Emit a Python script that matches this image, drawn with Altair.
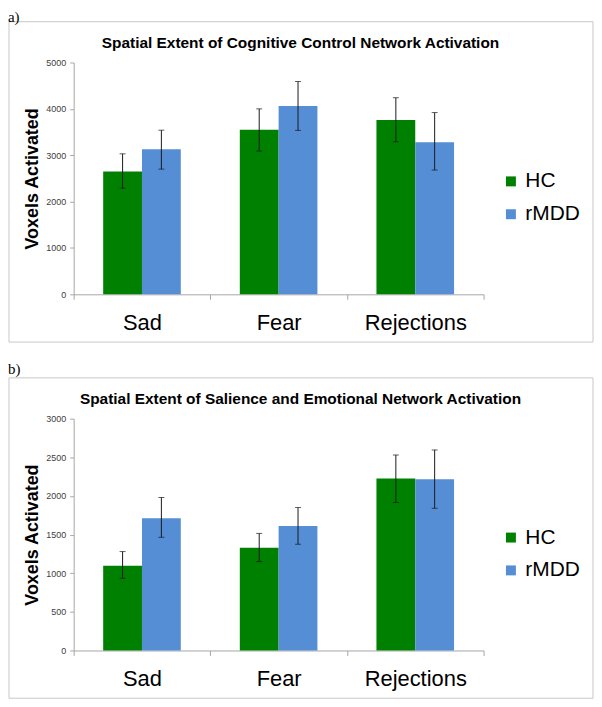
import altair as alt
import pandas as pd

categories = ["Sad", "Fear", "Rejections"]
groups = ["HC", "rMDD"]

# Panel a: Cognitive Control Network
cog_hc = [2650, 3550, 3760]
cog_hc_lo = [2290, 3090, 3290]
cog_hc_hi = [3030, 4000, 4240]
cog_rmdd = [3130, 4060, 3280]
cog_rmdd_lo = [2700, 3535, 2680]
cog_rmdd_hi = [3540, 4590, 3920]
cog_ticks = [0, 1000, 2000, 3000, 4000, 5000]

# Panel b: Salience and Emotional Network
sal_hc = [1095, 1330, 2225]
sal_hc_lo = [935, 1150, 1915]
sal_hc_hi = [1280, 1515, 2530]
sal_rmdd = [1710, 1610, 2215]
sal_rmdd_lo = [1465, 1375, 1840]
sal_rmdd_hi = [1980, 1850, 2595]
sal_ticks = [0, 500, 1000, 1500, 2000, 2500, 3000]

colors = ["#008000", "#558ED5"]
W, H = 412, 233
FONT = "Liberation Sans"


def make_df(hc, hc_lo, hc_hi, rm, rm_lo, rm_hi):
    rows = []
    for i, c in enumerate(categories):
        rows.append(dict(cat=c, grp="HC", v=hc[i], lo=hc_lo[i], hi=hc_hi[i]))
        rows.append(dict(cat=c, grp="rMDD", v=rm[i], lo=rm_lo[i], hi=rm_hi[i]))
    return pd.DataFrame(rows)


def panel(df, tag, tag_y, title, ticks, ymax):
    one = alt.Data(values=[{"k": 1}])
    xaxis = alt.Axis(title=None, labelAngle=0, labelFontSize=22, labelFont=FONT,
                     labelColor="black", domainColor="#a6a6a6", tickColor="#a6a6a6",
                     tickSize=5, tickBand="extent", labelPadding=13)
    xscale = alt.Scale(paddingInner=0, paddingOuter=0)
    x = alt.X("cat:N", sort=categories, scale=xscale, axis=xaxis)
    xo = alt.XOffset("grp:N", sort=groups,
                     scale=alt.Scale(paddingInner=0, paddingOuter=0.7606))
    yaxis = alt.Axis(values=ticks, format="d", title="Voxels Activated", grid=False,
                     labelOverlap=False,
                     labelFont=FONT, labelFontSize=9, labelColor="#404040",
                     domainColor="#a6a6a6", tickColor="#a6a6a6", tickSize=4, labelPadding=4,
                     titleFont=FONT, titleFontSize=18, titleFontWeight="bold", titleColor="black",
                     titleX=-41, titleY=H / 2, titleAlign="center", titleBaseline="middle",
                     titleAngle=270)
    yscale = alt.Scale(domain=[0, ymax], nice=False, zero=True)
    color = alt.Color("grp:N", sort=groups,
                      scale=alt.Scale(domain=groups, range=colors),
                      legend=alt.Legend(title=None, orient="none", legendX=429, legendY=109,
                                        symbolType="square", symbolSize=100, symbolStrokeWidth=0,
                                        labelFontSize=21, labelFont=FONT, labelColor="black",
                                        rowPadding=11, labelOffset=4, padding=0))
    base = alt.Chart(df)
    bars = base.mark_bar().encode(
        x=x, xOffset=xo,
        y=alt.Y("v:Q", scale=yscale, axis=yaxis),
        color=color)
    rules = base.mark_rule(color="#1a1a1a", strokeWidth=1).encode(
        x=x, xOffset=xo,
        y=alt.Y("lo:Q", scale=yscale, axis=yaxis), y2="hi:Q")
    cap_hi = base.mark_tick(color="#1a1a1a", size=6, thickness=1, orient="horizontal").encode(
        x=x, xOffset=xo, y=alt.Y("hi:Q", scale=yscale, axis=yaxis))
    cap_lo = base.mark_tick(color="#1a1a1a", size=6, thickness=1, orient="horizontal").encode(
        x=x, xOffset=xo, y=alt.Y("lo:Q", scale=yscale, axis=yaxis))

    extender = alt.Chart(one).mark_rect(opacity=0).encode(
        x=alt.value(-60), x2=alt.value(500), y=alt.value(-53), y2=alt.value(282))
    frame = alt.Chart(one).mark_rect(fill="transparent", stroke="#c8c8c8", strokeWidth=1).encode(
        x=alt.value(-65), x2=alt.value(522), y=alt.value(-41), y2=alt.value(281))
    ttl = alt.Chart(one).mark_text(text=title, font=FONT, fontSize=15.5, fontWeight="bold",
                                   align="center", baseline="alphabetic", color="black").encode(
        x=alt.value(228), y=alt.value(-15))
    tg = alt.Chart(one).mark_text(text=tag, font="Liberation Serif", fontSize=15,
                                  align="left", baseline="top", color="black").encode(
        x=alt.value(-66), y=alt.value(tag_y))
    return alt.layer(extender, frame, bars, rules, cap_hi, cap_lo, ttl, tg).properties(
        width=W, height=H)


df_a = make_df(cog_hc, cog_hc_lo, cog_hc_hi, cog_rmdd, cog_rmdd_lo, cog_rmdd_hi)
df_b = make_df(sal_hc, sal_hc_lo, sal_hc_hi, sal_rmdd, sal_rmdd_lo, sal_rmdd_hi)

pa = panel(df_a, "a)", -53, "Spatial Extent of Cognitive Control Network Activation", cog_ticks, 5000)
pb = panel(df_b, "b)", -57, "Spatial Extent of Salience and Emotional Network Activation", sal_ticks, 3000)

chart = alt.vconcat(pa, pb, spacing=19).resolve_scale(
    color="independent", y="independent", x="independent", xOffset="independent"
).resolve_legend(color="independent").properties(
    padding=0, background="white"
).configure_view(stroke=None)

chart.save("out.html", embed_options={"renderer": "svg", "actions": False})
